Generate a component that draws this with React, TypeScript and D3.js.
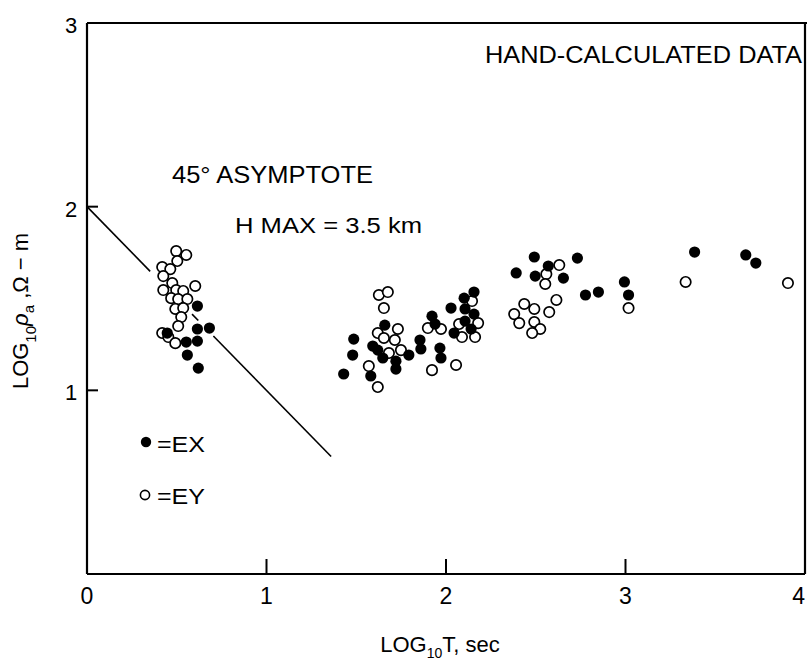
import React from 'react';
import * as d3 from 'd3';

// EX (filled) apparent resistivity points: log10 T, log10 rho_a
const exT = [0.615, 0.615, 0.682, 0.447, 0.553, 0.615, 0.559, 0.620,
  1.430, 1.480, 1.486, 1.592, 1.620, 1.648, 1.581, 1.659, 1.721, 1.721, 1.793, 1.855, 1.860,
  1.922, 1.939, 1.966, 1.972, 2.028, 2.101, 2.156, 2.106, 2.156, 2.106, 2.140, 2.045,
  2.391, 2.492, 2.570, 2.497, 2.654, 2.732,
  2.777, 2.849, 2.994, 3.017,
  3.385, 3.670, 3.726];
const exRho = [1.459, 1.334, 1.339, 1.312, 1.263, 1.268, 1.192, 1.121,
  1.089, 1.192, 1.279, 1.241, 1.219, 1.176, 1.078, 1.355, 1.159, 1.116, 1.192, 1.274, 1.225,
  1.404, 1.361, 1.230, 1.176, 1.448, 1.502, 1.535, 1.443, 1.415, 1.377, 1.334, 1.312,
  1.639, 1.726, 1.677, 1.622, 1.611, 1.720,
  1.519, 1.535, 1.590, 1.519,
  1.753, 1.737, 1.693];

// EY (open) points
const eyT = [0.497, 0.553, 0.503, 0.419, 0.464, 0.425, 0.475, 0.603, 0.425, 0.497, 0.536, 0.469, 0.508, 0.559, 0.492, 0.536, 0.525, 0.508, 0.419, 0.453, 0.492,
  1.626, 1.676, 1.654, 1.732, 1.620, 1.654, 1.715, 1.749, 1.682, 1.570, 1.620,
  1.899, 1.972, 1.922, 2.056, 2.145, 2.179, 2.073, 2.089, 2.162,
  2.631, 2.559, 2.553, 2.615, 2.575, 2.436, 2.492, 2.380, 2.408, 2.492, 2.525, 2.480,
  3.017,
  3.335, 3.905];
const eyRho = [1.758, 1.737, 1.704, 1.671, 1.660, 1.622, 1.584, 1.568, 1.546, 1.546, 1.541, 1.502, 1.497, 1.497, 1.443, 1.448, 1.399, 1.350, 1.312, 1.290, 1.257,
  1.519, 1.535, 1.448, 1.334, 1.312, 1.285, 1.274, 1.219, 1.203, 1.132, 1.018,
  1.339, 1.334, 1.110, 1.138, 1.486, 1.366, 1.361, 1.290, 1.290,
  1.682, 1.633, 1.579, 1.492, 1.426, 1.470, 1.443, 1.415, 1.366, 1.372, 1.334, 1.312,
  1.448,
  1.590, 1.584];

// 45° asymptote pieces (broken where the data points sit)
const asymStartT = [0.0, 0.585, 0.704];
const asymStartRho = [2.0, 1.415, 1.296];
const asymEndT = [0.352, 0.62, 1.36];
const asymEndRho = [1.648, 1.38, 0.64];

const xTicks = [0, 1, 2, 3, 4];
const xTickLabels = ['0', '1', '2', '3', '4'];
const yTicks = [1, 2, 3];
const yTickLabels = ['1', '2', '3'];

const W = 807;
const H = 666;
const FONT = "'Liberation Sans', 'DejaVu Sans', Arial, sans-serif";

export default function App() {
  const x = d3.scaleLinear().domain([0, 4]).range([87, 805]);
  const y = d3.scaleLinear().domain([0, 3]).range([574, 23]);
  const line = d3.line<[number, number]>().x(d => x(d[0])).y(d => y(d[1]));

  return (
    <svg width={W} height={H} viewBox={`0 0 ${W} ${H}`}
      style={{ position: 'absolute', left: 0, top: 0, background: '#fff' }}
      fontFamily={FONT}>
      <rect x={0} y={0} width={W} height={H} fill="#fff" />
      {/* frame */}
      <line x1={x(0)} y1={y(3)} x2={W} y2={y(3)} stroke="#000" strokeWidth={2} />
      <line x1={x(0)} y1={y(3)} x2={x(0)} y2={y(0)} stroke="#000" strokeWidth={2.2} />
      <line x1={x(0)} y1={y(0)} x2={x(4)} y2={y(0)} stroke="#000" strokeWidth={2.2} />
      <line x1={x(4)} y1={y(3)} x2={x(4)} y2={y(0)} stroke="#000" strokeWidth={2.2} />

      {/* x ticks */}
      {xTicks.map((t, i) => (
        <g key={'xt' + i}>
          {t > 0 && t < 4 && (
            <line x1={x(t)} y1={y(0)} x2={x(t)} y2={y(0) - 15} stroke="#000" strokeWidth={2} />
          )}
          <text x={t === 4 ? W - 2 : x(t)} y={y(0) + 30} fontSize={23}
            textAnchor={t === 4 ? 'end' : 'middle'}>{xTickLabels[i]}</text>
        </g>
      ))}
      {/* y ticks */}
      {yTicks.map((t, i) => (
        <g key={'yt' + i}>
          {t < 3 && (
            <line x1={x(0)} y1={y(t)} x2={x(0) + 11} y2={y(t)} stroke="#000" strokeWidth={2} />
          )}
          <text x={71} y={y(t) + 10} fontSize={22} textAnchor="middle">{yTickLabels[i]}</text>
        </g>
      ))}

      {/* asymptote */}
      {asymStartT.map((t, i) => (
        <path key={'as' + i}
          d={line([[t, asymStartRho[i]], [asymEndT[i], asymEndRho[i]]]) || ''}
          stroke="#000" strokeWidth={1.6} fill="none" />
      ))}

      {/* EY open points */}
      {eyT.map((t, i) => (
        <circle key={'ey' + i} cx={x(t)} cy={y(eyRho[i])} r={5.2}
          fill="#fff" stroke="#000" strokeWidth={1.7} />
      ))}
      {/* EX filled points */}
      {exT.map((t, i) => (
        <circle key={'ex' + i} cx={x(t)} cy={y(exRho[i])} r={5.6} fill="#000" />
      ))}

      {/* annotations */}
      <text x={485} y={63} fontSize={24} textLength={317} lengthAdjust="spacingAndGlyphs">HAND-CALCULATED DATA</text>
      <text x={172} y={183} fontSize={24} textLength={201} lengthAdjust="spacingAndGlyphs">45° ASYMPTOTE</text>
      <text x={235} y={233} fontSize={22} textLength={187} lengthAdjust="spacingAndGlyphs">H MAX  =  3.5 km</text>

      {/* legend */}
      <circle cx={146} cy={442} r={5.2} fill="#000" />
      <text x={157} y={452} fontSize={22} textLength={48} lengthAdjust="spacingAndGlyphs">=EX</text>
      <circle cx={145} cy={495} r={4.6} fill="#fff" stroke="#000" strokeWidth={1.6} />
      <text x={157} y={504} fontSize={22} textLength={48} lengthAdjust="spacingAndGlyphs">=EY</text>

      {/* axis titles */}
      <text x={440} y={652} fontSize={22} textAnchor="middle">
        LOG<tspan fontSize={14} dy={6}>10</tspan><tspan dy={-6}>T, sec</tspan>
      </text>
      <text transform={`translate(28, ${311}) rotate(-90)`} fontSize={22} textAnchor="middle">
        LOG<tspan fontSize={15} dy={8}>10</tspan><tspan dy={-8} fontStyle="italic">ρ</tspan><tspan fontSize={15} dy={6}>a</tspan><tspan dy={-6}> ,Ω − m</tspan>
      </text>
    </svg>
  );
}
